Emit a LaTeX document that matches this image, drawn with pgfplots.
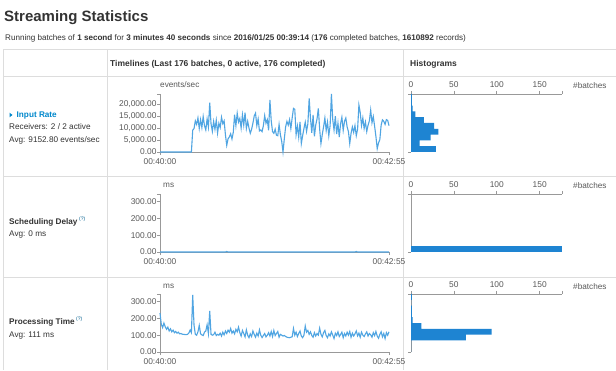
\documentclass[border=0pt]{standalone}
\usepackage{pgfplots}
\usepackage{pgfplotstable}
\pgfplotsset{compat=1.18}
\usepackage{fontspec}
\setmainfont{Liberation Sans}
\definecolor{linec}{RGB}{80,165,226}
\definecolor{barc}{RGB}{30,132,210}
\definecolor{axc}{RGB}{153,153,153}
\definecolor{txt}{RGB}{51,51,51}
\definecolor{tickc}{RGB}{90,90,90}
\definecolor{gridc}{RGB}{221,221,221}
\definecolor{linkc}{RGB}{0,136,204}
\newcommand\fs[1]{\fontsize{#1}{#1}\selectfont}

\pgfplotstableread[row sep=\\]{
t v\\
0 0\\ 1 0\\ 2 0\\ 3 0\\ 4 0\\ 5 0\\ 6 0\\ 7 0\\ 8 0\\ 9 0\\ 10 0\\ 11 0\\ 12 0\\ 13 0\\ 14 0\\ 15 0\\ 16 0\\ 17 0\\ 18 0\\ 19 0\\ 20 0\\ 21 0\\ 22 0\\ 23 0\\ 24 0\\
25 9100\\ 26 9800\\ 27 13000\\ 28 11500\\ 29 14200\\ 30 9800\\ 31 13500\\ 32 10200\\ 33 14800\\ 34 11000\\ 35 9200\\ 36 13800\\ 37 10400\\ 38 20600\\ 39 11800\\ 40 8600\\ 41 12800\\ 42 9500\\ 43 13300\\ 44 7900\\ 45 12000\\ 46 10200\\ 47 14500\\ 48 11800\\ 49 13000\\ 50 7200\\
51 2800\\ 52 5500\\ 53 6300\\ 54 7600\\ 55 5400\\ 56 8200\\ 57 15600\\ 58 11000\\ 59 16200\\ 60 12500\\ 61 14000\\ 62 10000\\ 63 15500\\ 64 11200\\ 65 16400\\ 66 9800\\ 67 12800\\ 68 10000\\ 69 7800\\ 70 9500\\ 71 12000\\ 72 15000\\ 73 16200\\ 74 11000\\ 75 13800\\
76 8800\\ 77 9200\\ 78 8500\\ 79 11000\\ 80 15200\\ 81 12000\\ 82 13500\\ 83 9000\\ 84 21700\\ 85 13000\\ 86 8500\\ 87 7800\\ 88 9500\\ 89 7000\\ 90 6800\\ 91 11500\\ 92 7200\\ 93 4500\\ 94 0\\ 95 5500\\ 96 10500\\ 97 12800\\ 98 11200\\ 99 13500\\ 100 9800\\
101 14200\\ 102 18200\\ 103 17800\\ 104 7200\\ 105 10800\\ 106 6200\\ 107 12600\\ 108 3500\\ 109 6800\\ 110 9800\\ 111 12500\\ 112 8600\\ 113 11800\\ 114 22400\\ 115 14000\\ 116 8000\\ 117 15500\\ 118 6500\\ 119 11200\\ 120 13800\\ 121 18200\\ 122 9600\\ 123 3500\\ 124 7200\\ 125 10500\\
126 14200\\ 127 9000\\ 128 12500\\ 129 6800\\ 130 11000\\ 131 24200\\ 132 13500\\ 133 9200\\ 134 15000\\ 135 7500\\ 136 12000\\ 137 6200\\ 138 11800\\ 139 14500\\ 140 9000\\ 141 12800\\ 142 14200\\ 143 10500\\ 144 8500\\ 145 3500\\ 146 7800\\ 147 10500\\ 148 8200\\ 149 11000\\ 150 6800\\
151 9500\\ 152 19600\\ 153 16500\\ 154 11000\\ 155 14200\\ 156 9800\\ 157 12500\\ 158 8500\\ 159 11200\\ 160 13000\\ 161 17500\\ 162 12200\\ 163 14800\\ 164 10800\\ 165 6500\\ 166 1400\\ 167 3800\\ 168 5200\\ 169 11200\\ 170 13400\\ 171 12800\\ 172 11500\\ 173 13500\\ 174 13200\\ 175 11000\\
}\inputrate

\pgfplotstableread[row sep=\\]{
t v\\
0 0\\ 50 0\\ 51 3\\ 52 0\\ 149 0\\ 150 3\\ 151 0\\ 175 0\\
}\schedtime

\pgfplotstableread[row sep=\\]{
t v\\
0 231\\ 1 165\\ 2 145\\ 3 172\\ 4 150\\ 5 135\\ 6 148\\ 7 125\\ 8 138\\ 9 120\\ 10 130\\ 11 115\\ 12 122\\ 13 112\\ 14 118\\ 15 108\\ 16 110\\ 17 106\\ 18 105\\ 19 104\\ 20 103\\ 21 105\\ 22 112\\ 23 130\\ 24 115\\
25 339\\ 26 160\\ 27 105\\ 28 100\\ 29 120\\ 30 158\\ 31 108\\ 32 102\\ 33 98\\ 34 118\\ 35 125\\ 36 162\\ 37 110\\ 38 245\\ 39 105\\ 40 100\\ 41 103\\ 42 118\\ 43 98\\ 44 105\\ 45 100\\ 46 112\\ 47 95\\ 48 118\\ 49 102\\ 50 125\\
51 110\\ 52 130\\ 53 118\\ 54 140\\ 55 112\\ 56 125\\ 57 108\\ 58 135\\ 59 120\\ 60 148\\ 61 115\\ 62 95\\ 63 128\\ 64 110\\ 65 90\\ 66 132\\ 67 100\\ 68 85\\ 69 108\\ 70 92\\ 71 125\\ 72 105\\ 73 88\\ 74 112\\ 75 95\\
76 132\\ 77 100\\ 78 86\\ 79 98\\ 80 110\\ 81 90\\ 82 100\\ 83 115\\ 84 95\\ 85 122\\ 86 92\\ 87 128\\ 88 98\\ 89 110\\ 90 122\\ 91 88\\ 92 105\\ 93 100\\ 94 95\\ 95 98\\ 96 92\\ 97 88\\ 98 86\\ 99 85\\ 100 88\\
101 90\\ 102 140\\ 103 100\\ 104 118\\ 105 92\\ 106 110\\ 107 125\\ 108 95\\ 109 85\\ 110 100\\ 111 155\\ 112 118\\ 113 128\\ 114 105\\ 115 120\\ 116 98\\ 117 88\\ 118 115\\ 119 95\\ 120 110\\ 121 100\\ 122 142\\ 123 105\\ 124 90\\ 125 115\\
126 128\\ 127 98\\ 128 85\\ 129 108\\ 130 95\\ 131 120\\ 132 100\\ 133 80\\ 134 112\\ 135 98\\ 136 120\\ 137 92\\ 138 104\\ 139 118\\ 140 85\\ 141 110\\ 142 95\\ 143 118\\ 144 100\\ 145 122\\ 146 88\\ 147 112\\ 148 95\\ 149 108\\ 150 125\\
151 96\\ 152 112\\ 153 88\\ 154 118\\ 155 100\\ 156 92\\ 157 108\\ 158 120\\ 159 95\\ 160 110\\ 161 102\\ 162 88\\ 163 115\\ 164 98\\ 165 122\\ 166 95\\ 167 82\\ 168 105\\ 169 120\\ 170 90\\ 171 110\\ 172 80\\ 173 115\\ 174 100\\ 175 120\\
}\proctime

% histograms: e = lower bin edge, c = count (last row closes the interval)
\pgfplotstableread[row sep=\\]{
e c\\ 0 29\\ 2420 10\\ 4840 23\\ 7260 32\\ 9680 27\\ 12100 15\\ 14520 5\\ 16940 2\\ 19360 1\\ 21780 1\\ 24200 0\\
}\histin
\pgfplotstableread[row sep=\\]{
e c\\ 0 176\\ 34.5 0\\
}\histsched
\pgfplotstableread[row sep=\\]{
e c\\ 0 0\\ 34.5 0\\ 69 64\\ 103.5 94\\ 138 12\\ 172.5 2\\ 207 1\\ 241.5 1\\ 276 0\\ 310.5 1\\ 345 0\\
}\histproc

\pgfplotsset{
  common/.style={scale only axis, height=58pt, ymin=0,
    axis line style={axc, line width=0.8pt},
    every tick/.style={axc, line width=0.8pt},
    tick align=outside, major tick length=3pt,
    tick label style={font=\fs{8.4}, text=tickc},
    scaled y ticks=false, scaled x ticks=false, clip=false},
  tl/.style={common, width=229pt, xmin=0, xmax=175,
    axis x line*=bottom, axis y line*=left,
    xtick={0,175}, xticklabels={00:40:00,00:42:55},
    yticklabel style={xshift=3pt, /pgf/number format/.cd, fixed, fixed zerofill, precision=2, 1000 sep={,}, assume math mode=true},
    extra y tick labels={}},
  hist/.style={common, width=151pt, xmin=0, xmax=176,
    axis x line*=top, axis y line*=left,
    xtick={0,50,100,150}, extra x ticks={176}, extra x tick labels={},
    xticklabel style={/pgf/number format/assume math mode=true},
    yticklabels={}},
}

\begin{document}
\begin{tikzpicture}[x=1pt,y=1pt]
\useasboundingbox (0,0) rectangle (616,370);
\fill[white] (0,0) rectangle (616,370);
% table rules
\draw[gridc, line width=1pt] (3,320) -- (616,320);
\draw[gridc, line width=1pt] (3,293) -- (616,293);
\draw[gridc, line width=1pt] (3,193) -- (616,193);
\draw[gridc, line width=1pt] (3,93) -- (616,93);
\draw[gridc, line width=1pt] (3,320) -- (3,0);
\draw[gridc, line width=1pt] (107,320) -- (107,0);
\draw[gridc, line width=1pt] (403,320) -- (403,0);

% titles
\node[anchor=base west, inner sep=0, font=\fs{15}\bfseries, text=txt] at (4,348) {Streaming Statistics};
\node[anchor=base west, inner sep=0, font=\fs{8.1}, text=txt] at (5,329.7) {Running batches of \textbf{1 second} for \textbf{3 minutes 40 seconds} since \textbf{2016/01/25 00:39:14} (\textbf{176} completed batches, \textbf{1610892} records)};
\node[anchor=base west, inner sep=0, font=\fs{8.5}\bfseries, text=txt] at (110,303.5) {Timelines (Last 176 batches, 0 active, 176 completed)};
\node[anchor=base west, inner sep=0, font=\fs{8.5}\bfseries, text=txt] at (410,303.5) {Histograms};

% left column
\fill[linkc] (9.5,257.3) -- (12.5,255) -- (9.5,252.7) -- cycle;
\node[anchor=base west, inner sep=0, font=\fs{8.2}\bfseries, text=linkc] at (16.5,252) {Input Rate};
\node[anchor=base west, inner sep=0, font=\fs{8.2}, text=txt] at (9,240.3) {Receivers: 2 / 2 active};
\node[anchor=base west, inner sep=0, font=\fs{8.2}, text=txt] at (9,227.5) {Avg: 9152.80 events/sec};

\node[anchor=base west, inner sep=0, font=\fs{8.2}\bfseries, text=txt] at (9,145.5) {Scheduling Delay};
\node[anchor=base west, inner sep=0, font=\fs{5}, text=linkc!70!black] at (79,149.5) {(?)};
\node[anchor=base west, inner sep=0, font=\fs{8.2}, text=txt] at (9,133) {Avg: 0 ms};

\node[anchor=base west, inner sep=0, font=\fs{8.2}\bfseries, text=txt] at (9,45.5) {Processing Time};
\node[anchor=base west, inner sep=0, font=\fs{5}, text=linkc!70!black] at (76,49.5) {(?)};
\node[anchor=base west, inner sep=0, font=\fs{8.2}, text=txt] at (9,32.5) {Avg: 111 ms};

% unit labels
\node[anchor=west, inner sep=0, font=\fs{8.2}, text=tickc] at (160,285) {events/sec};
\node[anchor=west, inner sep=0, font=\fs{8.2}, text=tickc] at (163,185) {ms};
\node[anchor=west, inner sep=0, font=\fs{8.2}, text=tickc] at (163,83.5) {ms};
\node[anchor=west, inner sep=0, font=\fs{8.2}, text=tickc] at (573,284.3) {\#batches};
\node[anchor=west, inner sep=0, font=\fs{8.2}, text=tickc] at (573,184.3) {\#batches};
\node[anchor=west, inner sep=0, font=\fs{8.2}, text=tickc] at (573,83.5) {\#batches};

% Row 1
\begin{axis}[tl, at={(160pt,218pt)}, anchor=south west, ymax=24200,
  ytick={0,5000,10000,15000,20000}, extra y ticks={24200}]
\addplot[linec, line width=1.1pt, no marks] table[x=t,y=v]{\inputrate};
\end{axis}
\begin{axis}[hist, at={(411pt,218pt)}, anchor=south west, ymax=24200, ytick={0,24200}]
\addplot[xbar interval, fill=barc, draw=none] table[x=c,y=e]{\histin};
\end{axis}

% Row 2
\begin{axis}[tl, at={(160pt,118pt)}, anchor=south west, ymax=345,
  ytick={0,100,200,300}, extra y ticks={345}]
\addplot[linec, line width=1.1pt, no marks] table[x=t,y=v]{\schedtime};
\end{axis}
\begin{axis}[hist, at={(411pt,118pt)}, anchor=south west, ymax=345, ytick={0,345}]
\addplot[xbar interval, fill=barc, draw=none] table[x=c,y=e]{\histsched};
\end{axis}

% Row 3
\begin{axis}[tl, at={(160pt,18pt)}, anchor=south west, ymax=345,
  ytick={0,100,200,300}, extra y ticks={345}]
\addplot[linec, line width=1.1pt, no marks] table[x=t,y=v]{\proctime};
\end{axis}
\begin{axis}[hist, at={(411pt,18pt)}, anchor=south west, ymax=345, ytick={0,345}]
\addplot[xbar interval, fill=barc, draw=none] table[x=c,y=e]{\histproc};
\end{axis}
\end{tikzpicture}
\end{document}
